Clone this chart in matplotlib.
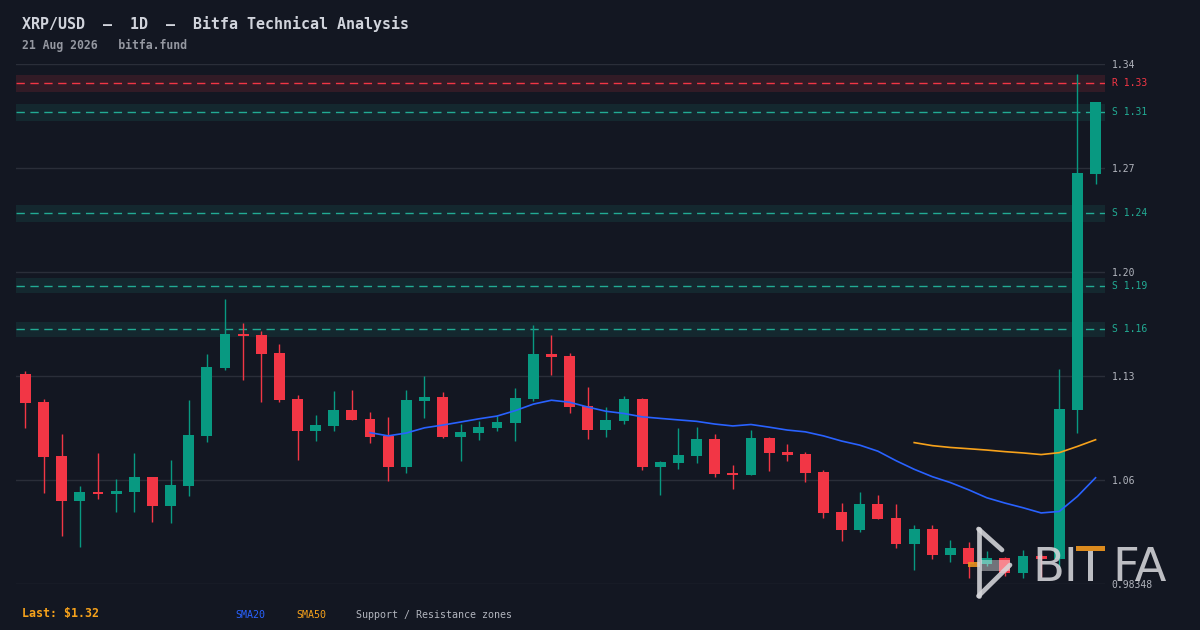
import matplotlib
matplotlib.use("Agg")
import matplotlib.pyplot as plt
import numpy as np
import pandas as pd
from matplotlib.patches import Rectangle

# ---------------- data ----------------
opens = [1.1289, 1.1095, 1.0721, 1.0412, 1.0472, 1.0460, 1.0474, 1.0576, 1.0377, 1.0515,
         1.0862, 1.1330, 1.1568, 1.1559, 1.1434, 1.1116, 1.0894, 1.0929, 1.1039, 1.0977,
         1.0859, 1.0647, 1.1102, 1.1129, 1.0853, 1.0880, 1.0915, 1.0949, 1.1116, 1.1427,
         1.1413, 1.1067, 1.0901, 1.0963, 1.1116, 1.0645, 1.0673, 1.0721, 1.0839, 1.0603,
         1.0589, 1.0846, 1.0749, 1.0735, 1.0610, 1.0333, 1.0209, 1.0389, 1.0292, 1.0112,
         1.0216, 1.0036, 1.0084, 0.9973, 1.0015, 0.9911, 1.0029, 1.0008, 1.1039, 1.2673]
highs = [1.1309, 1.1114, 1.0873, 1.0513, 1.0742, 1.0562, 1.0742, 1.0576, 1.0693, 1.1109,
         1.1427, 1.1808, 1.1642, 1.1586, 1.1496, 1.1143, 1.1005, 1.1171, 1.1178, 1.1026,
         1.0991, 1.1178, 1.1275, 1.1164, 1.0943, 1.0963, 1.0998, 1.1192, 1.1628, 1.1559,
         1.1434, 1.1199, 1.1060, 1.1136, 1.1123, 1.0686, 1.0915, 1.0922, 1.0873, 1.0659,
         1.0901, 1.0853, 1.0804, 1.0749, 1.0624, 1.0396, 1.0472, 1.0451, 1.0389, 1.0243,
         1.0243, 1.0139, 1.0126, 1.0063, 1.0022, 1.0070, 1.0043, 1.1323, 1.3366, 1.3172]
lows = [1.0917, 1.0467, 1.0169, 1.0093, 1.0425, 1.0335, 1.0335, 1.0266, 1.0259, 1.0446,
        1.0820, 1.1318, 1.1247, 1.1095, 1.1095, 1.0693, 1.0825, 1.0894, 1.0970, 1.0811,
        1.0548, 1.0603, 1.0984, 1.0846, 1.0686, 1.0832, 1.0894, 1.0825, 1.1102, 1.1282,
        1.1019, 1.0839, 1.0853, 1.0943, 1.0624, 1.0451, 1.0631, 1.0673, 1.0576, 1.0493,
        1.0589, 1.0617, 1.0686, 1.0541, 1.0292, 1.0133, 1.0195, 1.0285, 1.0084, 0.9932,
        1.0008, 0.9987, 0.9876, 0.9959, 0.9890, 0.9876, 0.9883, 0.9953, 1.0880, 1.2604]
closes = [1.1090, 1.0716, 1.0412, 1.0472, 1.0460, 1.0479, 1.0576, 1.0377, 1.0520, 1.0866,
          1.1337, 1.1566, 1.1552, 1.1427, 1.1109, 1.0896, 1.0936, 1.1039, 1.0970, 1.0853,
          1.0645, 1.1109, 1.1129, 1.0853, 1.0887, 1.0922, 1.0956, 1.1123, 1.1427, 1.1406,
          1.1060, 1.0901, 1.0970, 1.1116, 1.0645, 1.0679, 1.0728, 1.0839, 1.0596, 1.0589,
          1.0846, 1.0742, 1.0728, 1.0603, 1.0326, 1.0209, 1.0389, 1.0285, 1.0112, 1.0216,
          1.0036, 1.0084, 0.9973, 1.0015, 0.9911, 1.0029, 1.0008, 1.1046, 1.2680, 1.3172]

zone_levels = [1.33, 1.31, 1.24, 1.19, 1.16]
zone_kinds = ["R", "S", "S", "S", "S"]
zone_half = [0.0058, 0.0058, 0.0058, 0.0051, 0.0052]

y_min, y_max = 0.98348, 1.34348
tick_vals = list(np.linspace(y_min, y_max, 6))
tick_labels = ["0.98348", "1.06", "1.13", "1.20", "1.27", "1.34"]

title = "XRP/USD  \u2013  1D  \u2013  Bitfa Technical Analysis"
subtitle = "21 Aug 2026   bitfa.fund"
last_text = "Last: $1.32"

# ---------------- style ----------------
BG = "#131722"
UP = "#089981"
DOWN = "#f23645"
SUP = "#22ab94"
GRID = "#2a2e39"
TXT = "#b2b5be"
BLUE = "#2962ff"
ORANGE = "#f7a21b"
MONO = "DejaVu Sans Mono"
plt.rcParams["font.family"] = [MONO, "DejaVu Sans"]

W, H = 1200, 630
fig = plt.figure(figsize=(W / 100, H / 100), dpi=100, facecolor=BG)
ax = fig.add_axes([16 / W, 46 / H, (1105 - 16) / W, 520 / H])
ax.set_facecolor(BG)
for s in ax.spines.values():
    s.set_visible(False)

n = len(closes)
x = np.arange(n)
o = np.array(opens); c = np.array(closes); hi = np.array(highs); lo = np.array(lows)

ax.set_xlim(-0.52, n - 0.48)
ax.set_ylim(y_min, y_max)

# grid / ticks
ax.set_yticks(tick_vals)
ax.set_yticklabels(tick_labels)
ax.yaxis.tick_right()
ax.tick_params(axis="y", length=0, pad=4.8, labelcolor=TXT, labelsize=7)
ax.set_xticks([])
ax.grid(axis="y", color=GRID, lw=1.0, zorder=0)
ax.set_axisbelow(True)

# zones
ytr = ax.get_yaxis_transform()
for lvl, kind, hw in zip(zone_levels, zone_kinds, zone_half):
    col = DOWN if kind == "R" else SUP
    ax.axhspan(lvl - hw, lvl + hw, color=col, alpha=0.14 if kind == "R" else 0.12, lw=0, zorder=1)
    ax.axhline(lvl, color=col, lw=1.0, ls=(0, (6, 4)), zorder=2)
    ax.text(1.0064, lvl, f"{kind} {lvl:.2f}", transform=ytr, color=col,
            fontsize=7, va="center", ha="left", clip_on=False)

# candles
colors = np.where(c >= o, UP, DOWN)
ax.vlines(x, lo, hi, colors=colors, lw=1.0, zorder=3)
body_bottom = np.minimum(o, c)
body_h = np.maximum(np.abs(c - o), 0.0014)
ax.bar(x, body_h, bottom=body_bottom, width=0.6, color=colors, lw=0, zorder=4)

# SMAs
cs = pd.Series(closes)
sma20 = cs.rolling(20).mean()
sma50 = cs.rolling(50).mean()
ax.plot(x, sma20, color=BLUE, lw=1.2, zorder=5)
ax.plot(x, sma50, color=ORANGE, lw=1.2, zorder=5)

# texts
fig.text(22 / W, 1 - 24.5 / H, title, color="#d1d4dc", fontsize=10.8, fontweight="bold",
         va="center", ha="left", family=MONO)
fig.text(21.5 / W, 1 - 45 / H, subtitle, color="#9598a1", fontsize=8.3, fontweight="bold",
         va="center", ha="left", family=MONO)
fig.text(21.5 / W, 1 - 613 / H, last_text, color=ORANGE, fontsize=8.4, fontweight="bold",
         va="center", ha="left", family=MONO)
fig.text(235 / W, 1 - 615.5 / H, "SMA20", color=BLUE, fontsize=7.2, va="center", ha="left")
fig.text(296 / W, 1 - 615.5 / H, "SMA50", color=ORANGE, fontsize=7.2, va="center", ha="left")
fig.text(355.5 / W, 1 - 615.5 / H, "Support / Resistance zones", color=TXT, fontsize=7.2,
         va="center", ha="left")

# watermark logo (pixel overlay)
ov = fig.add_axes([0, 0, 1, 1], zorder=10)
ov.set_xlim(0, W); ov.set_ylim(H, 0); ov.axis("off"); ov.patch.set_alpha(0)
LOGO = "#d6d6da"
la = 0.88
ov.add_patch(Rectangle((968, 562), 12, 4.5, color="#e8921e", alpha=0.9, lw=0))
ov.add_patch(Rectangle((981, 560), 29, 11, color="#ffffff", alpha=0.4, lw=0))
ov.plot([978.5, 978.5], [529, 596], color=LOGO, lw=3.4, alpha=la, solid_capstyle="round")
ov.plot([978.5, 1002], [529, 550], color=LOGO, lw=3.4, alpha=la, solid_capstyle="round")
ov.plot([978.5, 1010], [596, 565], color=LOGO, lw=3.4, alpha=la, solid_capstyle="round")
ov.text(1032, 581, "BI", ha="left", va="baseline", fontsize=33.5, family="DejaVu Sans",
        color=LOGO, alpha=la)
ov.text(1112, 581, "FA", ha="left", va="baseline", fontsize=33.5, family="DejaVu Sans",
        color=LOGO, alpha=la)
ov.add_patch(Rectangle((1087.5, 551), 5.5, 30, color=LOGO, alpha=la, lw=0))
ov.add_patch(Rectangle((1076, 546), 29, 4.5, color="#e8921e", alpha=0.95, lw=0))

fig.savefig("out.png", dpi=100, facecolor=BG)
